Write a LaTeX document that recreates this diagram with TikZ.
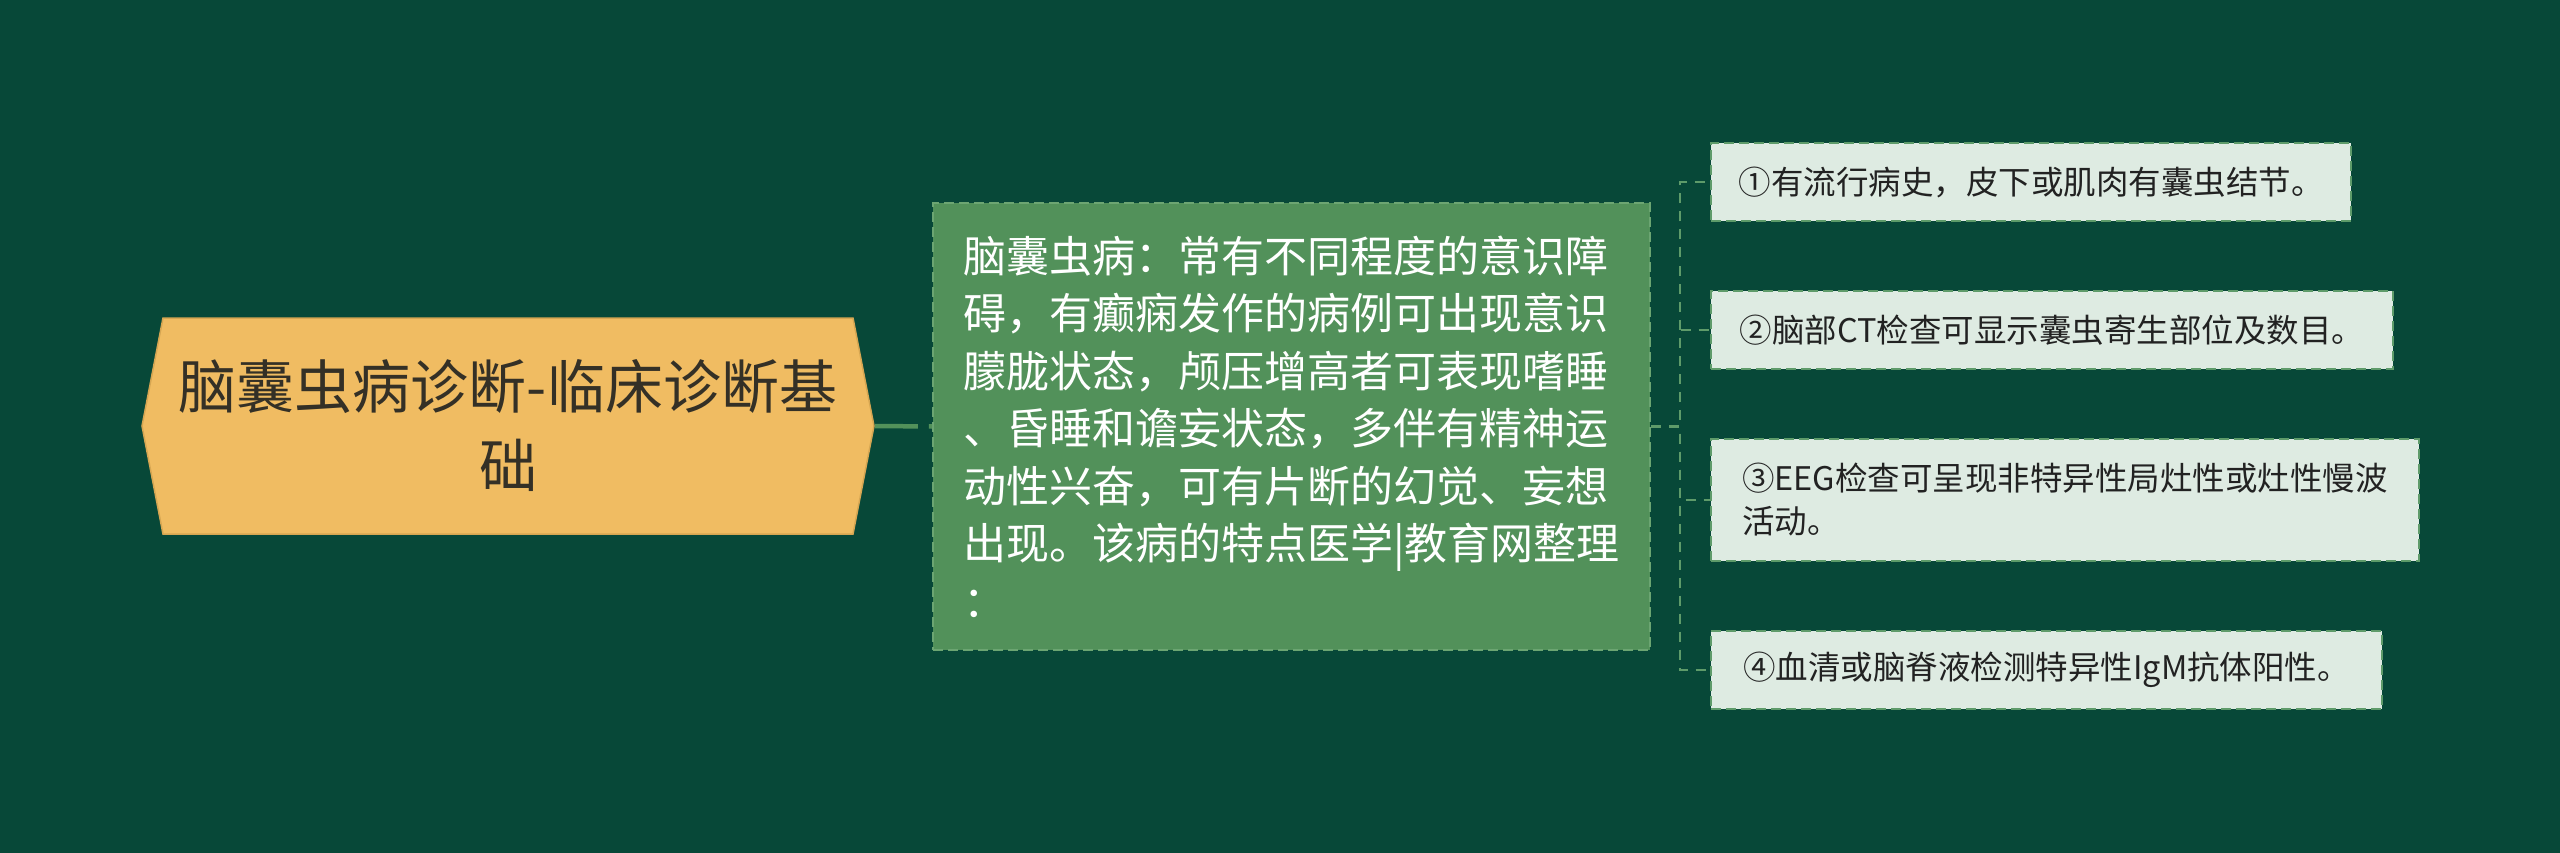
\documentclass[tikz,border=0pt]{standalone}
\usepackage{fontspec}
\setmainfont{Noto Sans CJK SC}
\usepackage{tikz}
\usetikzlibrary{shapes.symbols}
\definecolor{bgc}{RGB}{7,72,56}
\definecolor{rootc}{RGB}{240,188,98}
\definecolor{rootline}{RGB}{214,166,82}
\definecolor{roottext}{RGB}{52,48,38}
\definecolor{midc}{RGB}{82,145,90}
\definecolor{midline}{RGB}{108,165,114}
\definecolor{leafc}{RGB}{222,235,226}
\definecolor{leafline}{RGB}{94,155,106}
\definecolor{leaftext}{RGB}{34,34,34}
\tikzset{
	rootbox/.style={shape=signal, signal to=east and west, signal pointer angle=158,
		fill=rootc, draw=rootline, line width=1.5pt, minimum width=732pt, minimum height=216pt,
		align=center, text=roottext, font=\fontsize{58}{79}\selectfont},
	midbox/.style={fill=midc, draw=midline, dash pattern=on 10pt off 5pt, line width=2pt,
		minimum width=717pt, minimum height=447pt, inner xsep=24pt, align=left, text=white,
		font=\fontsize{43}{57.5}\selectfont},
	leafbox/.style={anchor=west, fill=leafc, draw=leafline, dash pattern=on 10pt off 5pt,
		line width=2pt, minimum height=78pt, inner xsep=19pt, align=left, text=leaftext,
		font=\fontsize{32.5}{43}\selectfont},
	rootlink/.style={midc, line width=4.5pt, dash pattern=on 43pt off 11pt},
	leaflink/.style={leafline, line width=2.5pt, dash pattern=on 10pt off 8pt}
}
\begin{document}
\begin{tikzpicture}[x=1pt,y=-1pt]
	\fill[bgc] (0,0) rectangle (2560,853);
	\useasboundingbox (0,0) rectangle (2560,853);
	\node[rootbox] (root) at (508,426) {脑囊虫病诊断-临床诊断基\\础};
	\node[midbox] (mid) at (1291.5,426.5) {脑囊虫病：常有不同程度的意识障\\碍，有癫痫发作的病例可出现意识\\朦胧状态，颅压增高者可表现嗜睡\\、昏睡和谵妄状态，多伴有精神运\\动性兴奋，可有片断的幻觉、妄想\\出现。该病的特点医学|教育网整理\\：};
	\node[leafbox, minimum width=640pt] (d1) at (1710,182) {①有流行病史，皮下或肌肉有囊虫结节。};
	\node[leafbox, minimum width=682pt] (d2) at (1710,330) {②脑部CT检查可显示囊虫寄生部位及数目。};
	\node[leafbox, minimum width=708pt, minimum height=122pt] (d3) at (1710,500) {③EEG检查可呈现非特异性局灶性或灶性慢波\\活动。};
	\node[leafbox, minimum width=671pt] (d4) at (1710,670) {④血清或脑脊液检测特异性IgM抗体阳性。};
	\coordinate (trunk) at (1680,426.5);
	\draw[rootlink] (root.east) -- (mid.west);
	\foreach \n in {d1,d2,d3,d4}{
		\draw[leaflink] (mid.east) -- (trunk) |- (\n.west);}
\end{tikzpicture}
\end{document}
